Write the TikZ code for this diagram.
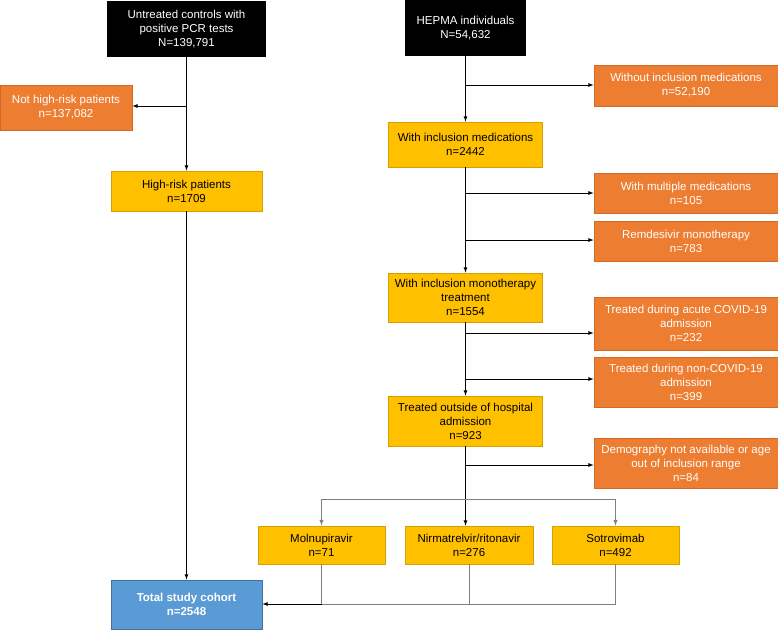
\documentclass[tikz,border=0pt]{standalone}
\usepackage{fontspec}
\setmainfont{Liberation Sans}
\usetikzlibrary{arrows,calc}
\definecolor{fc_orange}{RGB}{237, 125, 49}
\definecolor{fc_orangeline}{RGB}{210, 105, 40}
\definecolor{fc_yellow}{RGB}{255, 192, 0}
\definecolor{fc_yellowline}{RGB}{214, 160, 0}
\definecolor{fc_blue}{RGB}{91, 155, 213}
\definecolor{fc_blueline}{RGB}{65, 113, 156}
\definecolor{fc_grey}{RGB}{128, 128, 128}
\tikzstyle{src}=[rectangle,fill=black,text=white,align=center,inner sep=2pt]
\tikzstyle{excl}=[rectangle,fill=fc_orange,draw=fc_orangeline,
  line width=0.8 pt,text=white,align=center,inner sep=2pt]
\tikzstyle{incl}=[rectangle,fill=fc_yellow,draw=fc_yellowline,
  line width=0.8 pt,text=black,align=center,inner sep=2pt]
\tikzstyle{total}=[rectangle,fill=fc_blue,draw=fc_blueline,
  line width=0.8 pt,text=white,align=center,inner sep=2pt,
  font=\fontsize{11.5}{14}\selectfont\bfseries]
\tikzstyle{arr}=[-latex,line width=0.8 pt]
\tikzstyle{gline}=[draw=fc_grey,line width=1 pt]
\tikzstyle{none}=[]

\begin{document}
\begin{tikzpicture}[x=1pt, y=-1pt, every node/.style={font=\fontsize{11.5}{14}\selectfont}]
            \useasboundingbox (0, 0) rectangle (778, 629);
            \node [style=src, minimum width=159, minimum height=56] (0) at (186.5, 29) {Untreated controls with\\positive PCR tests\\N=139,791};
            \node [style=src, minimum width=121, minimum height=56] (1) at (465.5, 28) {HEPMA individuals\\N=54,632};
            \node [style=excl, minimum width=132, minimum height=45] (2) at (66, 107.5) {Not high-risk patients\\n=137,082};
            \node [style=incl, minimum width=151, minimum height=40] (3) at (186.5, 191) {High-risk patients\\n=1709};
            \node [style=excl, minimum width=184, minimum height=41] (4) at (686, 85.5) {Without inclusion medications\\n=52,190};
            \node [style=incl, minimum width=154, minimum height=45] (5) at (465.5, 144.5) {With inclusion medications\\n=2442};
            \node [style=excl, minimum width=184, minimum height=40] (6) at (686, 193) {With multiple medications\\n=105};
            \node [style=excl, minimum width=184, minimum height=40] (7) at (686, 241) {Remdesivir monotherapy\\n=783};
            \node [style=incl, minimum width=154, minimum height=49] (8) at (465.5, 297.5) {With inclusion monotherapy\\treatment\\n=1554};
            \node [style=excl, minimum width=184, minimum height=53] (9) at (686, 323.5) {Treated during acute COVID-19\\admission\\n=232};
            \node [style=excl, minimum width=184, minimum height=50] (10) at (686, 382) {Treated during non-COVID-19\\admission\\n=399};
            \node [style=incl, minimum width=154, minimum height=50] (11) at (465.5, 421) {Treated outside of hospital\\admission\\n=923};
            \node [style=excl, minimum width=184, minimum height=50] (12) at (686, 463) {Demography not available or age\\out of inclusion range\\n=84};
            \node [style=incl, minimum width=127, minimum height=38] (13) at (321.5, 545) {Molnupiravir\\n=71};
            \node [style=incl, minimum width=128, minimum height=38] (14) at (469, 545) {Nirmatrelvir/ritonavir\\n=276};
            \node [style=incl, minimum width=127, minimum height=38] (15) at (615.5, 545) {Sotrovimab\\n=492};
            \node [style=total, minimum width=151, minimum height=49] (16) at (186.5, 604.5) {Total study cohort\\n=2548};
            \coordinate (a0) at (186.5, 106);
            \coordinate (b0) at (465.5, 85);
            \coordinate (b1) at (465.5, 193);
            \coordinate (b2) at (465.5, 240);
            \coordinate (b3) at (465.5, 333);
            \coordinate (b4) at (465.5, 379);
            \coordinate (b5) at (465.5, 465);
            \coordinate (b6) at (465.5, 499);
            \coordinate (c0) at (0, 604);
            \draw [style=arr] (0) to (3);
            \draw [style=arr] (a0) to (a0 -| 2.east);
            \draw [style=arr] (3) to (16);
            \draw [style=arr] (1) to (5);
            \draw [style=arr] (b0) to (b0 -| 4.west);
            \draw [style=arr] (5) to (8);
            \draw [style=arr] (b1) to (b1 -| 6.west);
            \draw [style=arr] (b2) to (b2 -| 7.west);
            \draw [style=arr] (8) to (11);
            \draw [style=arr] (b3) to (b3 -| 9.west);
            \draw [style=arr] (b4) to (b4 -| 10.west);
            \draw [style=arr] (11) to (11 |- 14.north);
            \draw [style=arr] (b5) to (b5 -| 12.west);
            \draw [style=gline, -latex] (b6) -| (13);
            \draw [style=gline, -latex] (b6) -| (15);
            \draw [style=gline] (13) to (13 |- c0);
            \draw [style=gline] (14) to (14 |- c0);
            \draw [style=gline] (15) |- (c0 -| 13);
            \draw [style=arr] (c0 -| 13) to (c0 -| 16.east);
    \end{tikzpicture}
\end{document}
